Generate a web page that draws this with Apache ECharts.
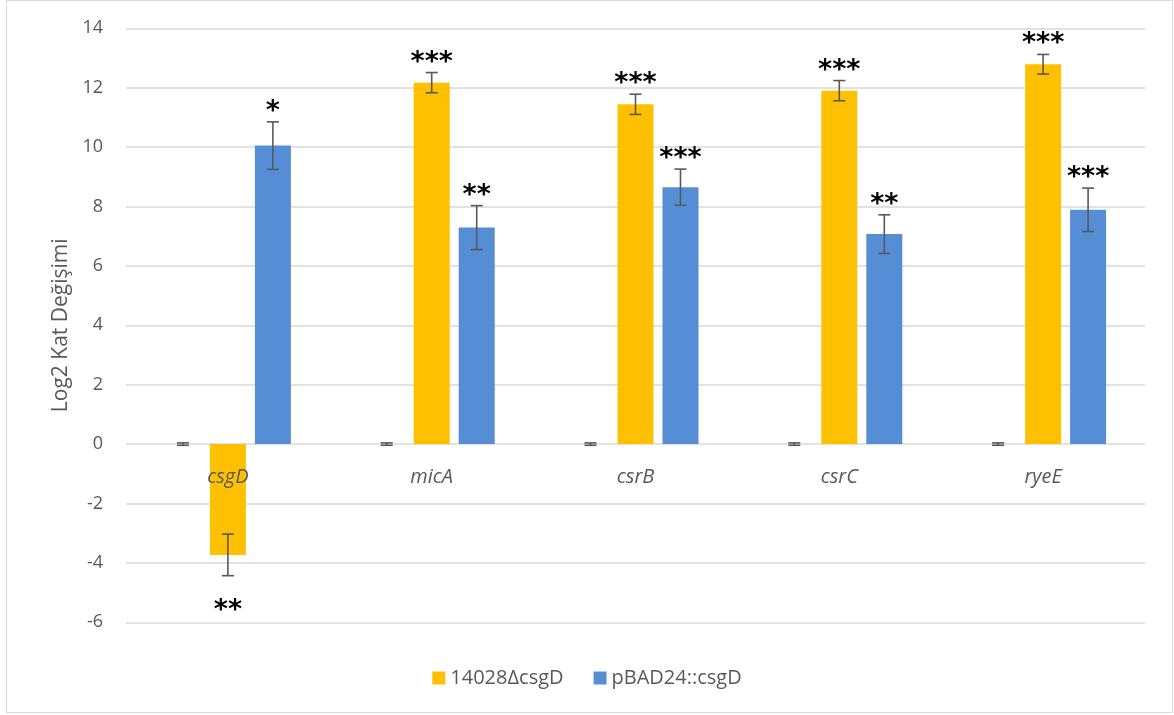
<!DOCTYPE html>
<html>
<head>
<meta charset="utf-8">
<script src="https://cdn.jsdelivr.net/npm/echarts@6/dist/echarts.min.js"></script>
<style>
  html, body { margin: 0; padding: 0; background: #ffffff; }
  #chart { width: 1174px; height: 715px; }
</style>
</head>
<body>
<div id="chart"></div>
<script>
// Genes on the x axis
const categories = ['csgD', 'micA', 'csrB', 'csrC', 'ryeE'];

// Reference strain (value 0, tiny error)
const controlValues = [0, 0, 0, 0, 0];
const controlErrors = [0.04, 0.04, 0.04, 0.04, 0.04];

// 14028ΔcsgD
const deltaValues = [-3.73, 12.17, 11.44, 11.90, 12.79];
const deltaErrors = [0.70, 0.34, 0.34, 0.34, 0.33];
const deltaSig = ['**', '***', '***', '***', '***'];

// pBAD24::csgD
const pbadValues = [10.05, 7.29, 8.65, 7.07, 7.89];
const pbadErrors = [0.80, 0.74, 0.61, 0.65, 0.73];
const pbadSig = ['*', '**', '***', '**', '***'];

// Value axis
const yMin = -6, yMax = 14, yStep = 2;

const FONT = '"Open Sans", "Noto Sans", sans-serif';
const TEXT = '#595959';
const BAR_W = 36;
const BAR_STEP = 45; // bar width + gap

function errorSeries(name, values, errors, sig, slot) {
  return {
    name: name + '-err',
    type: 'custom',
    z: 5,
    clip: false,
    silent: true,
    data: values.map((v, i) => [i, v, errors[i]]),
    encode: { x: 0, y: 1 },
    renderItem: function (params, api) {
      const i = api.value(0), v = api.value(1), e = api.value(2);
      const x = api.coord([i, 0])[0] + slot * BAR_STEP;
      const yHi = api.coord([i, v + e])[1];
      const yLo = api.coord([i, v - e])[1];
      const half = 6;
      const lineStyle = { stroke: '#595959', lineWidth: 1.6 };
      const children = [
        { type: 'line', shape: { x1: x, y1: yHi, x2: x, y2: yLo }, style: lineStyle },
        { type: 'line', shape: { x1: x - half, y1: yHi, x2: x + half, y2: yHi }, style: lineStyle },
        { type: 'line', shape: { x1: x - half, y1: yLo, x2: x + half, y2: yLo }, style: lineStyle }
      ];
      const mark = sig ? sig[params.dataIndex] : '';
      if (mark) {
        const above = v >= 0;
        children.push({
          type: 'text',
          style: {
            text: mark,
            x: x,
            y: above ? yHi - 10 : yLo + 35,
            align: 'center',
            verticalAlign: 'middle',
            font: 'bold 27px "DejaVu Sans", sans-serif',
            fill: '#000000'
          }
        });
      }
      return { type: 'group', children: children };
    }
  };
}

// Gene names sit just under the zero line, on top of the bars
const categoryLabels = {
  name: 'gene-labels',
  type: 'custom',
  z: 8,
  clip: false,
  silent: true,
  data: categories.map((c, i) => [i, 0]),
  encode: { x: 0, y: 1 },
  renderItem: function (params, api) {
    const p = api.coord([api.value(0), 0]);
    return {
      type: 'text',
      style: {
        text: categories[params.dataIndex],
        x: p[0],
        y: p[1] + 33,
        align: 'center',
        verticalAlign: 'middle',
        font: 'italic 20px ' + FONT,
        fill: TEXT
      }
    };
  }
};

const chart = echarts.init(document.getElementById('chart'), null, { renderer: 'canvas' });

chart.setOption({
  animation: false,
  backgroundColor: '#ffffff',
  graphic: [{
    type: 'rect',
    shape: { x: 6.5, y: 0.5, width: 1166, height: 712 },
    style: { fill: 'none', stroke: '#d9d9d9', lineWidth: 1 },
    silent: true
  }],
  grid: { left: 126, right: 29, top: 28.3, bottom: 92.7, containLabel: false },
  legend: {
    data: ['14028ΔcsgD', 'pBAD24::csgD'],
    bottom: 22,
    left: 'center',
    icon: 'rect',
    itemWidth: 13,
    itemHeight: 13,
    itemGap: 30,
    textStyle: { color: TEXT, fontSize: 20, fontFamily: FONT }
  },
  xAxis: {
    type: 'category',
    data: categories,
    axisLine: { show: false },
    axisTick: { show: false },
    axisLabel: { show: false }
  },
  yAxis: {
    type: 'value',
    min: yMin,
    max: yMax,
    interval: yStep,
    name: 'Log2 Kat Değişimi',
    nameLocation: 'middle',
    nameGap: 52,
    nameTextStyle: { color: TEXT, fontSize: 21, fontFamily: FONT },
    axisLine: { show: false },
    axisTick: { show: false },
    axisLabel: { margin: 23, color: TEXT, fontSize: 18, fontFamily: FONT },
    splitLine: { lineStyle: { color: '#d9d9d9', width: 1.5 } }
  },
  series: [
    {
      name: 'kontrol',
      type: 'bar',
      data: controlValues,
      barWidth: BAR_W,
      barGap: '25%',
      itemStyle: { color: '#a5a5a5' }
    },
    {
      name: '14028ΔcsgD',
      type: 'bar',
      data: deltaValues,
      barWidth: BAR_W,
      barGap: '25%',
      itemStyle: { color: '#ffc000' }
    },
    {
      name: 'pBAD24::csgD',
      type: 'bar',
      data: pbadValues,
      barWidth: BAR_W,
      barGap: '25%',
      itemStyle: { color: '#558ed5' }
    },
    errorSeries('kontrol', controlValues, controlErrors, null, -1),
    errorSeries('14028ΔcsgD', deltaValues, deltaErrors, deltaSig, 0),
    errorSeries('pBAD24::csgD', pbadValues, pbadErrors, pbadSig, 1),
    categoryLabels
  ]
});
</script>
</body>
</html>
